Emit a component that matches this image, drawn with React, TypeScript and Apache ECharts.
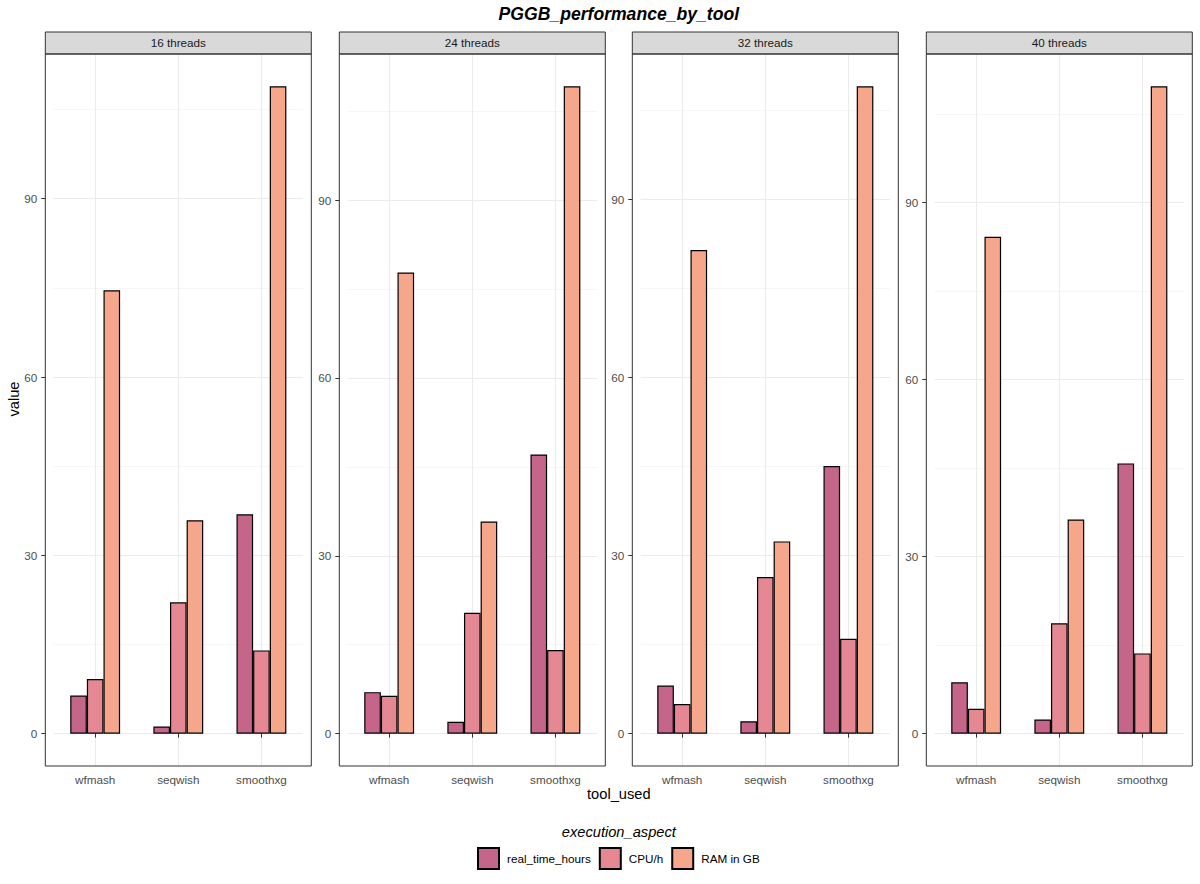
import React, { useEffect, useRef } from "react";
import * as echarts from "echarts";

// ---------------- data ----------------
const threads = ["16 threads", "24 threads", "32 threads", "40 threads"];
const tools = ["wfmash", "seqwish", "smoothxg"];
const aspects = ["real_time_hours", "CPU/h", "RAM in GB"];
const yTicks = [0, 30, 60, 90];
const yMinorTicks = [15, 45, 75, 105];

// one row per facet (threads), one value per tool
const realTimeHours = [
  [6.4, 1.2, 36.9],
  [7.0, 2.0, 47.1],
  [8.1, 2.1, 45.1],
  [8.7, 2.4, 45.8],
];
const cpuPerHour = [
  [9.2, 22.1, 14.0],
  [6.4, 20.4, 14.1],
  [5.0, 26.4, 16.0],
  [4.2, 18.7, 13.6],
];
const ramInGB = [
  [74.6, 35.9, 108.9],
  [77.8, 35.8, 109.2],
  [81.5, 32.4, 109.1],
  [84.2, 36.3, 109.7],
];

const aspectData = [realTimeHours, cpuPerHour, ramInGB];
const aspectColors = ["#C56589", "#E58894", "#F6A68B"];

// ---------------- layout ----------------
const FONT = "'Liberation Sans', Arial, Helvetica, sans-serif";
const panelLefts = [45.3, 339.3, 632.3, 926.3];
const panelWidth = 266;
const panelTop = 54;
const panelBottom = 766;
const stripTop = 32;
const pad = panelWidth / 32; // ggplot discrete expansion 0.6 vs band 0.5

export default function App() {
  const ref = useRef<HTMLDivElement>(null);

  useEffect(() => {
    document.body.style.margin = "0";
    if (!ref.current) return;
    const chart = echarts.init(ref.current, undefined, { renderer: "svg" });

    const grids: any[] = [];
    const xAxes: any[] = [];
    const yAxes: any[] = [];
    const series: any[] = [];
    const graphics: any[] = [];

    threads.forEach((label, i) => {
      const L = panelLefts[i];
      const H = panelBottom - panelTop;
      grids.push({
        left: L + pad,
        top: panelTop,
        width: panelWidth - 2 * pad,
        height: H,
        containLabel: false,
      });
      xAxes.push({
        type: "category",
        gridIndex: i,
        data: tools,
        boundaryGap: true,
        axisLine: { show: false },
        axisTick: {
          show: true,
          alignWithLabel: true,
          length: 4,
          lineStyle: { color: "#333333", width: 1 },
        },
        axisLabel: {
          color: "#4D4D4D",
          fontSize: 11.7,
          fontFamily: FONT,
          margin: 7,
        },
        splitLine: {
          show: true,
          alignWithLabel: true,
          lineStyle: { color: "#EBEBEB", width: 1 },
        },
      });
      let dataMax = 0;
      aspectData.forEach((arr) =>
        arr[i].forEach((v) => {
          if (v > dataMax) dataMax = v;
        })
      );
      const yMin = -0.05 * dataMax;
      const yMax = 1.05 * dataMax;
      yAxes.push({
        type: "value",
        gridIndex: i,
        min: yMin,
        max: yMax,
        position: "left",
        offset: pad,
        axisLine: { show: false },
        axisTick: {
          show: true,
          length: 4,
          customValues: yTicks,
          lineStyle: { color: "#333333", width: 1 },
        },
        axisLabel: {
          customValues: yTicks,
          color: "#4D4D4D",
          fontSize: 11.7,
          fontFamily: FONT,
          margin: 8,
        },
        splitLine: { show: true, lineStyle: { color: "#EBEBEB", width: 1 } },
      });
      yAxes.push({
        type: "value",
        gridIndex: i,
        min: yMin,
        max: yMax,
        position: "right",
        axisLine: { show: false },
        axisTick: { show: false, customValues: yMinorTicks },
        axisLabel: { show: false, customValues: yMinorTicks },
        splitLine: { show: true, lineStyle: { color: "#F2F2F2", width: 0.7 } },
      });

      aspects.forEach((name, a) => {
        series.push({
          type: "bar",
          name,
          xAxisIndex: i,
          yAxisIndex: 2 * i,
          data: aspectData[a][i],
          barWidth: "20%",
          barGap: "0%",
          itemStyle: {
            color: aspectColors[a],
            borderColor: "#000000",
            borderWidth: 1.2,
          },
          z: 3,
        });
      });

      // strip
      graphics.push({
        type: "rect",
        shape: { x: L, y: stripTop, width: panelWidth, height: panelTop - stripTop },
        style: { fill: "#D9D9D9", stroke: "#333333", lineWidth: 1 },
        z: 50,
      });
      graphics.push({
        type: "text",
        x: L + panelWidth / 2,
        y: (stripTop + panelTop) / 2 - 0.5,
        style: {
          text: label,
          align: "center",
          verticalAlign: "middle",
          fontSize: 11.7,
          fontFamily: FONT,
          fill: "#1A1A1A",
        },
        z: 51,
      });
      // panel border
      graphics.push({
        type: "rect",
        shape: { x: L, y: panelTop, width: panelWidth, height: H },
        style: { fill: "none", stroke: "#333333", lineWidth: 1 },
        z: 100,
      });
    });

    const centerX = (panelLefts[0] + panelLefts[3] + panelWidth) / 2;
    graphics.push({
      type: "text",
      x: centerX,
      y: 14,
      style: {
        text: "PGGB_performance_by_tool",
        align: "center",
        verticalAlign: "middle",
        fontSize: 17.6,
        fontWeight: "bold",
        fontStyle: "italic",
        fontFamily: FONT,
        fill: "#000000",
      },
    });
    graphics.push({
      type: "text",
      x: centerX,
      y: 794,
      style: {
        text: "tool_used",
        align: "center",
        verticalAlign: "middle",
        fontSize: 14.67,
        fontFamily: FONT,
        fill: "#000000",
      },
    });
    graphics.push({
      type: "text",
      x: 14,
      y: (stripTop + panelBottom) / 2,
      rotation: Math.PI / 2,
      style: {
        text: "value",
        align: "center",
        verticalAlign: "middle",
        fontSize: 14.67,
        fontFamily: FONT,
        fill: "#000000",
      },
    });
    graphics.push({
      type: "text",
      x: centerX,
      y: 832,
      style: {
        text: "execution_aspect",
        align: "center",
        verticalAlign: "middle",
        fontSize: 14.67,
        fontStyle: "italic",
        fontFamily: FONT,
        fill: "#000000",
      },
    });

    chart.setOption({
      animation: false,
      backgroundColor: "#FFFFFF",
      textStyle: { fontFamily: FONT },
      grid: grids,
      xAxis: xAxes,
      yAxis: yAxes,
      series,
      legend: {
        data: aspects,
        left: 477,
        top: 847,
        padding: 0,
        itemWidth: 21,
        itemHeight: 21,
        itemGap: 8,
        icon: "rect",
        textStyle: {
          fontSize: 11.7,
          color: "#000000",
          fontFamily: FONT,
          padding: [0, 0, 0, 3],
        },
      },
      graphic: graphics,
    });

    return () => {
      chart.dispose();
    };
  }, []);

  return <div ref={ref} style={{ width: 1200, height: 884 }} />;
}
